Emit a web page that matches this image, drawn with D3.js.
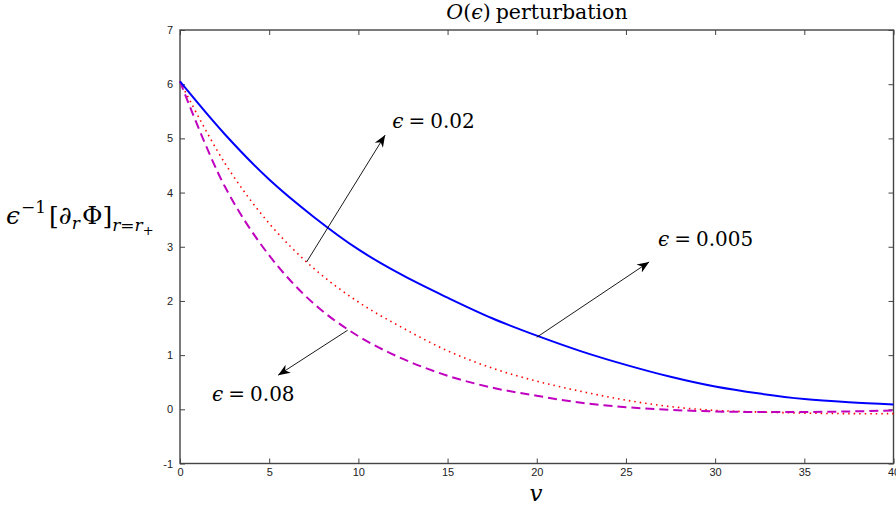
<!DOCTYPE html>
<html><head><meta charset="utf-8">
<script src="https://cdn.jsdelivr.net/npm/d3@7"></script>
<style>
body{margin:0;background:#fff;}
svg{display:block;}
</style></head>
<body><svg id="chart" width="896" height="509"></svg>
<script>
// ---- data ----
const vValues = [0,2.5,5,7.5,10,12.5,15,17.5,20,22.5,25,27.5,30,32.5,35,37.5,40];
const eps005 = [6.05,5.08,4.24,3.55,2.95,2.47,2.06,1.68,1.36,1.07,0.82,0.6,0.42,0.29,0.19,0.13,0.09];
const eps002 = [6.05,4.55,3.43,2.6,1.98,1.5,1.08,0.76,0.52,0.33,0.17,0.05,-0.02,-0.05,-0.07,-0.08,-0.08];
const eps008 = [6.05,4.12,2.84,1.95,1.35,0.93,0.62,0.40,0.25,0.12,0.04,-0.01,-0.04,-0.05,-0.05,-0.04,-0.02];
const xTicks = [0,5,10,15,20,25,30,35,40];
const yTicks = [-1,0,1,2,3,4,5,6,7];
// annotations: [label, start v, start y, end v, end y, text v, text y]
const annotations = [
  ["0.02", 7.1, 2.72, 11.5, 5.06, 11.9, 5.2],
  ["0.005", 20.0, 1.33, 26.3, 2.72, 26.8, 3.02],
  ["0.08", 9.4, 1.46, 5.5, 0.63, 1.8, 0.16]
];

const SERIF = "DejaVu Serif";
const SANS = "Liberation Sans";

const svg = d3.select("#chart");
const L=180, R=893.5, T=30, B=463.5;
const x = d3.scaleLinear().domain([0,40]).range([L,R]);
const y = d3.scaleLinear().domain([-1,7]).range([B,T]);

const axCol = "#444";
svg.append("rect").attr("x",L).attr("y",T).attr("width",R-L).attr("height",B-T)
  .attr("fill","none").attr("stroke",axCol).attr("stroke-width",1.4);

const tl=5;
const fmt = d => String(d);
const gx = svg.append("g").attr("transform",`translate(0,${B})`)
  .call(d3.axisBottom(x).tickValues(xTicks).tickFormat(fmt).tickSizeInner(-tl).tickSizeOuter(0).tickPadding(5));
const gxt = svg.append("g").attr("transform",`translate(0,${T})`)
  .call(d3.axisTop(x).tickValues(xTicks).tickSizeInner(-tl).tickSizeOuter(0).tickFormat(""));
const gy = svg.append("g").attr("transform",`translate(${L},0)`)
  .call(d3.axisLeft(y).tickValues(yTicks).tickFormat(fmt).tickSizeInner(-tl).tickSizeOuter(0).tickPadding(7));
const gyr = svg.append("g").attr("transform",`translate(${R},0)`)
  .call(d3.axisRight(y).tickValues(yTicks).tickSizeInner(-tl).tickSizeOuter(0).tickFormat(""));
[gx,gxt,gy,gyr].forEach(g=>{
  g.attr("font-family",SANS).attr("font-size",11);
  g.select(".domain").remove();
  g.selectAll(".tick line").attr("stroke",axCol).attr("stroke-width",1);
  g.selectAll("text").attr("fill","#222");
});

// curves
const pts = arr => vValues.map((v,i)=>[v,arr[i]]);
const line = d3.line().x(d=>x(d[0])).y(d=>y(d[1])).curve(d3.curveCatmullRom.alpha(0.5));
svg.append("path").attr("d",line(pts(eps002))).attr("fill","none")
  .attr("stroke","#ff0000").attr("stroke-width",1.6).attr("stroke-dasharray","1.5,4");
svg.append("path").attr("d",line(pts(eps008))).attr("fill","none")
  .attr("stroke","#bf00bf").attr("stroke-width",2).attr("stroke-dasharray","9,5");
svg.append("path").attr("d",line(pts(eps005))).attr("fill","none")
  .attr("stroke","#0000ff").attr("stroke-width",2);

svg.append("defs").append("marker").attr("id","ah").attr("viewBox","0 0 10 10")
  .attr("refX",10).attr("refY",5).attr("markerWidth",12).attr("markerHeight",12)
  .attr("markerUnits","userSpaceOnUse").attr("orient","auto")
  .append("path").attr("d","M0,1 L10,5 L0,9 L3,5 Z").attr("fill","#000");

annotations.forEach(a=>{
  svg.append("line").attr("x1",x(a[1])).attr("y1",y(a[2])).attr("x2",x(a[3])).attr("y2",y(a[4]))
    .attr("stroke","#000").attr("stroke-width",0.9).attr("marker-end","url(#ah)");
  const t = svg.append("text").attr("font-family",SERIF).attr("x",x(a[5])).attr("y",y(a[6]))
    .attr("font-size",20).attr("fill","#000");
  t.append("tspan").attr("font-style","italic").text("ϵ");
  t.append("tspan").attr("dx",5).text("=");
  t.append("tspan").attr("dx",5).text(a[0]);
});

// title
const title = svg.append("text").attr("font-family",SERIF).attr("x",537).attr("y",19).attr("text-anchor","middle")
  .attr("font-size",20.5).attr("fill","#000");
title.append("tspan").attr("font-style","italic").text("O");
title.append("tspan").text("(");
title.append("tspan").attr("font-style","italic").text("ϵ");
title.append("tspan").text(")");
title.append("tspan").attr("dx",5).text("perturbation");

// x label
svg.append("text").attr("font-family",SERIF).attr("x",536).attr("y",501).attr("text-anchor","middle")
  .attr("font-size",23).attr("font-style","italic").text("v");

// y label
const yl = svg.append("text").attr("font-family",SERIF).attr("x",6).attr("y",224)
  .attr("font-size",25).attr("fill","#000");
yl.append("tspan").attr("font-style","italic").text("ϵ");
yl.append("tspan").attr("font-size",17).attr("dy",-11).attr("dx",1).text("−1");
yl.append("tspan").attr("dy",11).attr("dx",3).text("[∂");
yl.append("tspan").attr("font-size",17).attr("font-style","italic").attr("dy",5).text("r");
yl.append("tspan").attr("dy",-5).attr("dx",2).text("Φ]");
yl.append("tspan").attr("font-size",17).attr("font-style","italic").attr("dy",7).text("r");
yl.append("tspan").attr("font-size",17).text("=");
yl.append("tspan").attr("font-size",17).attr("font-style","italic").text("r");
yl.append("tspan").attr("font-size",13).attr("dy",4).text("+");
</script></body></html>
